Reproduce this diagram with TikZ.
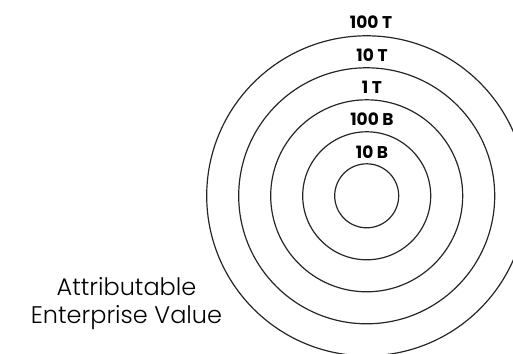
\documentclass[tikz,border=0pt]{standalone}
\usepackage{fontspec}
\setmainfont{Poppins Light}
\newfontfamily\ringfont{Poppins}
\tikzset{
  ring/.style={line width = 1.2pt, draw=black!85},
  ringlabel/.style={anchor=base, font=\ringfont\bfseries\fontsize{17}{17}\selectfont},
  evlabel/.style={anchor=base, font=\fontsize{24}{24}\selectfont}
}
\begin{document}
\begin{tikzpicture}[x=1pt,y=1pt]
  \useasboundingbox (0,0) rectangle (513,353);
  \clip (0,0) rectangle (513,353);
  \coordinate (C) at (366.7,157.2);

  \draw [ring] (C) circle (32pt);
  \draw [ring] (C) circle (64pt);
  \draw [ring] (C) circle (96pt);
  \draw [ring] (C) circle (128pt);
  \draw [ring] (C) circle (160pt);

  \node [ringlabel] (b10) at (372, 194.3) {10 B};
  \node [ringlabel] (b100) at (372, 227) {100 B};
  \node [ringlabel] (t1) at (372, 259) {1 T};
  \node [ringlabel] (t10) at (372, 291.5) {10 T};
  \node [ringlabel] (t100) at (371, 324) {100 T};

  \node [evlabel] (ev1) at (126.5, 57.3) {Attributable};
  \node [evlabel] (ev2) at (126.5, 29.7) {Enterprise Value};
\end{tikzpicture}
\end{document}
